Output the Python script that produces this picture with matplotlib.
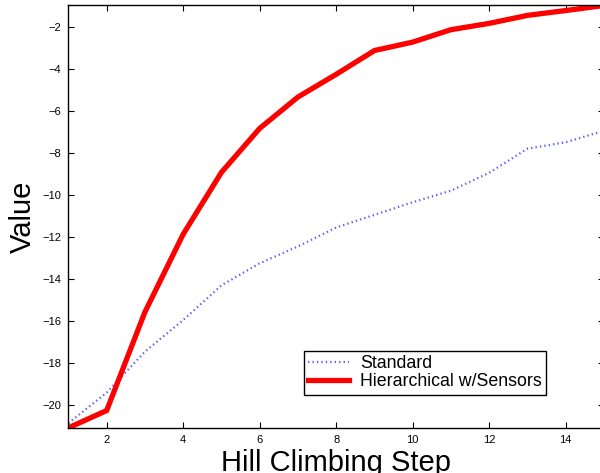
import matplotlib
matplotlib.use('Agg')
import matplotlib.pyplot as plt

# hill climbing steps and the two value curves
steps = list(range(1, 16))
standard = [-20.85, -19.4, -17.45, -15.95, -14.3, -13.25, -12.45, -11.55,
            -10.95, -10.35, -9.8, -8.95, -7.8, -7.5, -6.95]
hierarchical = [-21.07, -20.25, -15.57, -11.87, -8.93, -6.84, -5.35, -4.27,
                -3.14, -2.74, -2.15, -1.85, -1.47, -1.24, -1.0]
xticks = [2, 4, 6, 8, 10, 12, 14]
yticks = [-20, -18, -16, -14, -12, -10, -8, -6, -4, -2]

plt.rcParams['font.family'] = ['Liberation Sans', 'DejaVu Sans']

fig = plt.figure(figsize=(6, 4.73), dpi=100)
ax = fig.add_axes([0.114, 0.0951, 0.8927, 0.8933])

ax.plot(steps, standard, color='#5a5aff', linestyle=(0, (0.6, 1.4)),
        linewidth=1.6, label='Standard')
ax.plot(steps, hierarchical, color='#ff0000', linewidth=3.8,
        solid_joinstyle='miter', label='Hierarchical w/Sensors')

ax.set_xlim(1, 15)
ax.set_ylim(-21.08, -1.0)
ax.set_xticks(xticks)
ax.set_yticks(yticks)
ax.tick_params(direction='in', length=4, width=0.8, labelsize=8,
               top=True, right=True, pad=5)
for sp in ax.spines.values():
    sp.set_linewidth(1.0)

ax.set_xlabel('Hill Climbing Step', fontsize=21, labelpad=3)
ax.set_ylabel('Value', fontsize=21, labelpad=4)

leg = ax.legend(loc='upper left', bbox_to_anchor=(304 / 600, 1 - 351 / 473),
                bbox_transform=fig.transFigure, fontsize=12.8, frameon=True,
                fancybox=False, edgecolor='black', framealpha=1,
                handlelength=2.3, handletextpad=0.6, borderpad=0.25,
                labelspacing=0.05, borderaxespad=0)
leg.get_frame().set_linewidth(1.0)

fig.savefig('out.png', dpi=100)
